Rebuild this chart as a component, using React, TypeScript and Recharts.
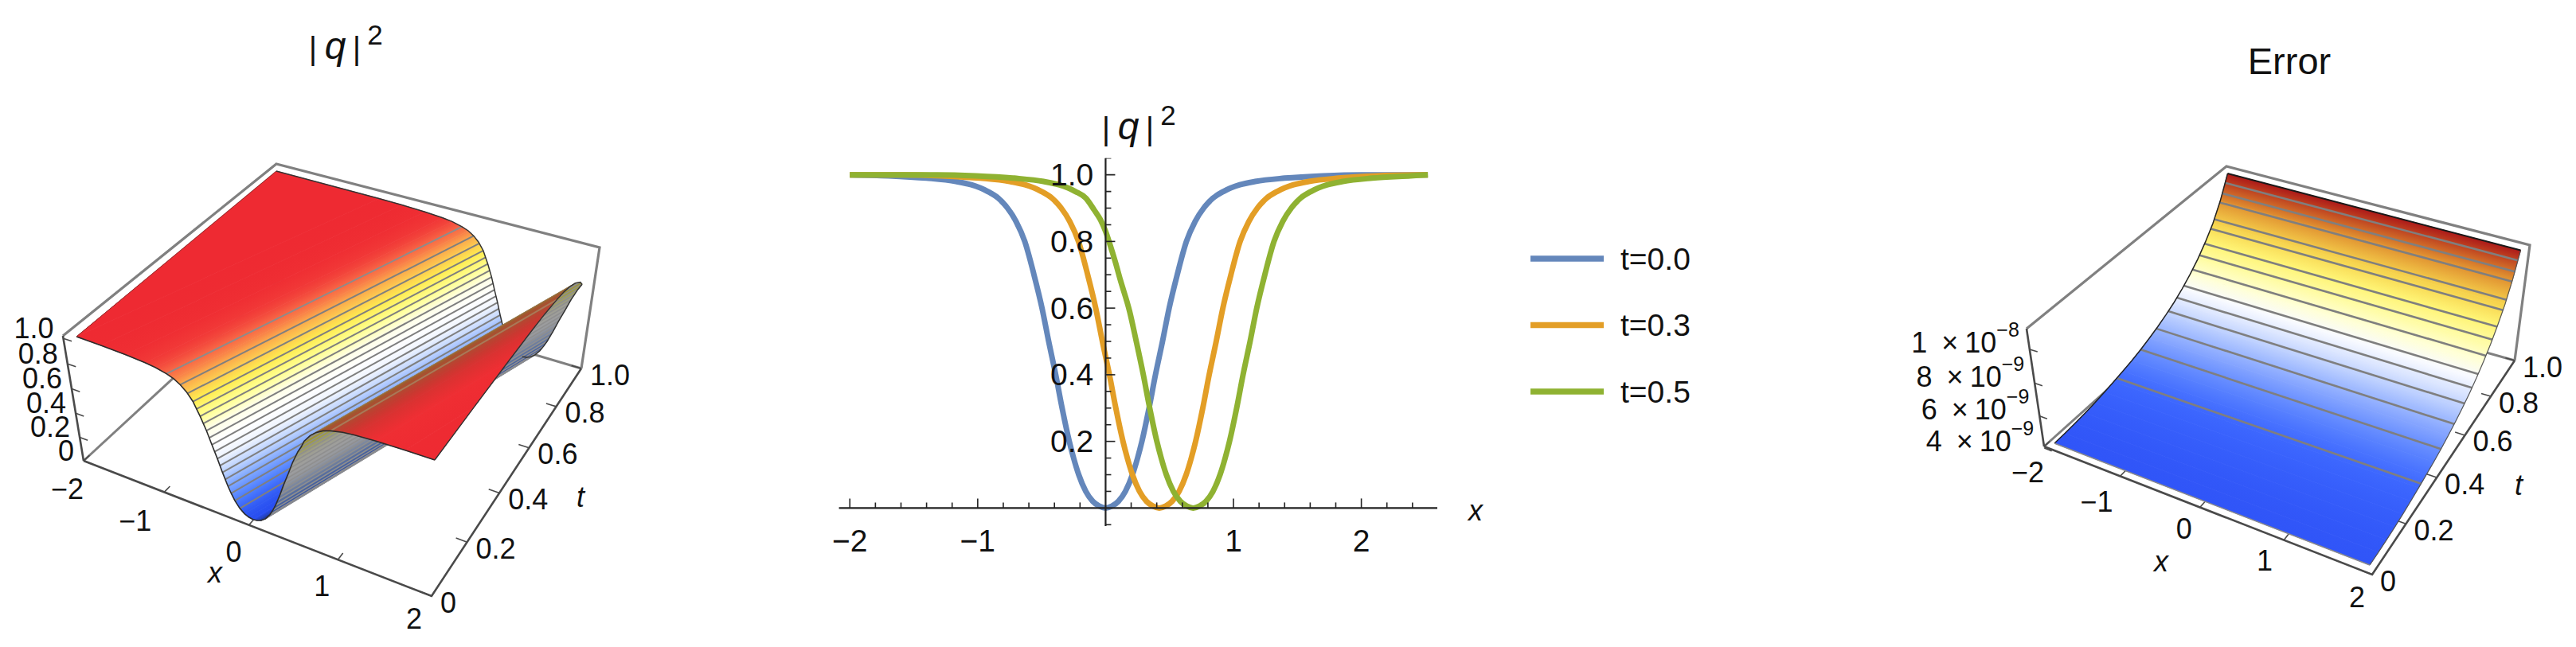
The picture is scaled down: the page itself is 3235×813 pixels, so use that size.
import React from "react";
import { ComposedChart, Line, Scatter, XAxis, YAxis, ReferenceLine, Legend } from "recharts";

// ---- middle panel: profiles ----
const profileT00X = [-2.0, -1.7, -1.4, -1.17, -1.05, -0.922, -0.84, -0.767, -0.7, -0.632, -0.56, -0.497, -0.445, -0.39, -0.34, -0.284, -0.25, -0.21, -0.155, -0.1, -0.05, 0, 0.05, 0.1, 0.155, 0.21, 0.25, 0.284, 0.34, 0.39, 0.445, 0.497, 0.56, 0.632, 0.7, 0.767, 0.84, 0.922, 1.05, 1.17, 1.4, 1.7, 2.0, 2.52];
const profileT00Y = [1, 0.997, 0.99, 0.98, 0.97, 0.95, 0.93, 0.9, 0.86, 0.8, 0.7, 0.6, 0.5, 0.4, 0.3, 0.2, 0.15, 0.1, 0.05, 0.02, 0.006, 0, 0.006, 0.02, 0.05, 0.1, 0.15, 0.2, 0.3, 0.4, 0.5, 0.6, 0.7, 0.8, 0.86, 0.9, 0.93, 0.95, 0.97, 0.98, 0.99, 0.997, 1, 1];
const profileT03X = [-2.0, -1.58, -1.28, -0.98, -0.75, -0.63, -0.502, -0.42, -0.347, -0.28, -0.212, -0.14, -0.077, -0.025, 0.03, 0.08, 0.136, 0.17, 0.21, 0.265, 0.32, 0.37, 0.42, 0.47, 0.52, 0.575, 0.63, 0.67, 0.704, 0.76, 0.81, 0.865, 0.917, 0.98, 1.052, 1.12, 1.187, 1.26, 1.342, 1.47, 1.59, 1.82, 2.12, 2.52];
const profileT03Y = [1, 1, 0.997, 0.99, 0.98, 0.97, 0.95, 0.93, 0.9, 0.86, 0.8, 0.7, 0.6, 0.5, 0.4, 0.3, 0.2, 0.15, 0.1, 0.05, 0.02, 0.006, 0, 0.006, 0.02, 0.05, 0.1, 0.15, 0.2, 0.3, 0.4, 0.5, 0.6, 0.7, 0.8, 0.86, 0.9, 0.93, 0.95, 0.97, 0.98, 0.99, 0.997, 1];
const profileT05X = [-2.0, -1.315, -1.015, -0.715, -0.485, -0.365, -0.237, -0.155, -0.09, -0.04, 0, 0.035, 0.075, 0.115, 0.188, 0.24, 0.295, 0.345, 0.401, 0.435, 0.475, 0.53, 0.585, 0.635, 0.685, 0.735, 0.785, 0.84, 0.895, 0.935, 0.969, 1.025, 1.075, 1.13, 1.182, 1.245, 1.317, 1.385, 1.452, 1.525, 1.607, 1.735, 1.855, 2.085, 2.385, 2.52];
const profileT05Y = [1, 1, 0.997, 0.99, 0.98, 0.97, 0.95, 0.93, 0.895, 0.865, 0.83, 0.79, 0.74, 0.685, 0.59, 0.5, 0.4, 0.3, 0.2, 0.15, 0.1, 0.05, 0.02, 0.006, 0, 0.006, 0.02, 0.05, 0.1, 0.15, 0.2, 0.3, 0.4, 0.5, 0.6, 0.7, 0.8, 0.86, 0.9, 0.93, 0.95, 0.97, 0.98, 0.99, 0.997, 1];
const xMinorTicks = [-2, -1.8, -1.6, -1.4, -1.2, -1, -0.8, -0.6, -0.4, -0.2, 0.2, 0.4, 0.6, 0.8, 1, 1.2, 1.4, 1.6, 1.8, 2, 2.2, 2.4];
const xMajorTicks = [-2, -1, 1, 2];
const yMinorTicks = [-0.05, 0.05, 0.1, 0.15, 0.2, 0.25, 0.3, 0.35, 0.4, 0.45, 0.5, 0.55, 0.6, 0.65, 0.7, 0.75, 0.8, 0.85, 0.9, 0.95, 1, 1.05];
const yMajorTicks = [0.2, 0.4, 0.6, 0.8, 1.0];

// ---- left panel: |q|^2 surface, height against distance from the moving dip ----
const dipSpeed = 1.4;
const surfaceU = [-3.4, -2.0, -1.7, -1.4, -1.17, -1.05, -0.922, -0.84, -0.767, -0.7, -0.632, -0.56, -0.497, -0.445, -0.39, -0.34, -0.284, -0.25, -0.21, -0.155, -0.1, -0.05, 0, 0.05, 0.1, 0.155, 0.21, 0.25, 0.284, 0.34, 0.39, 0.445, 0.497, 0.56, 0.6, 0.632, 0.7, 0.767, 0.84, 0.922, 1.05, 1.17, 1.4, 1.7, 2.0];
const surfaceZ = [1, 1, 0.997, 0.99, 0.98, 0.97, 0.95, 0.93, 0.9, 0.86, 0.8, 0.7, 0.6, 0.5, 0.4, 0.3, 0.2, 0.15, 0.1, 0.05, 0.02, 0.006, 0, 0.006, 0.02, 0.05, 0.1, 0.15, 0.2, 0.3, 0.4, 0.5, 0.6, 0.7, 0.75, 0.8, 0.86, 0.9, 0.93, 0.95, 0.97, 0.98, 0.99, 0.997, 1];
const contourFarU = [-0.155, -0.21, -0.25, -0.284, -0.312, -0.34, -0.365, -0.39, -0.418, -0.445, -0.47, -0.497, -0.528, -0.56, -0.595, -0.632, -0.69, -0.767, -0.922];
const contourNearU = [0.155, 0.21, 0.25, 0.284, 0.312, 0.34, 0.365, 0.39, 0.418, 0.445, 0.47, 0.497, 0.528, 0.56, 0.595, 0.632, 0.69];
const contourNearZ = [0.05, 0.1, 0.15, 0.2, 0.25, 0.3, 0.35, 0.4, 0.45, 0.5, 0.55, 0.6, 0.65, 0.7, 0.75, 0.8, 0.85];
const contourFarZ = [0.05, 0.1, 0.15, 0.2, 0.25, 0.3, 0.35, 0.4, 0.45, 0.5, 0.55, 0.6, 0.65, 0.7, 0.75, 0.8, 0.85, 0.9, 0.95];
const leftXTicks = [-2, -1, 0, 1, 2];
const leftTTicks = [0, 0.2, 0.4, 0.6, 0.8, 1.0];
const leftZTicks = [0, 0.2, 0.4, 0.6, 0.8, 1.0];

// ---- right panel: error surface, values in units of 1e-9 ----
const errorT = [0, 0.05, 0.1, 0.15, 0.2, 0.25, 0.3, 0.35, 0.4, 0.45, 0.5, 0.55, 0.6, 0.65, 0.7, 0.75, 0.8, 0.85, 0.9, 0.95, 1];
const errorZ = [4.15, 4.18, 4.23, 4.3, 4.39, 4.51, 4.64, 4.78, 4.93, 5.11, 5.33, 5.57, 5.85, 6.17, 6.55, 7.0, 7.52, 8.15, 8.88, 9.85, 11.1];
const errorContourT = [0.316, 0.45, 0.541, 0.614, 0.667, 0.711, 0.766, 0.812, 0.846, 0.886, 0.91, 0.946, 0.963, 0.982];
const errorContourZ = [4.69, 5.11, 5.54, 5.94, 6.3, 6.65, 7.17, 7.66, 8.08, 8.67, 9.05, 9.78, 10.2, 10.68];
const errorZTicks = [10, 8, 6, 4];
const errorZExp = ["8", "9", "9", "9"];

const FONT = "'Liberation Sans', Arial, sans-serif";
const BOX_GRAY = "#808080";
const AXIS_DARK = "#4a4a4a";
const CONTOUR = "#7f7f7f";

type Pt = [number, number];
const leftSurfaceCorners: Pt[] = [[120, 572], [536, 742], [352, 351], [714, 467], [96, 423], [546, 578], [347, 215], [737, 319]];
const leftBoxCorners: Pt[] = [[105, 579], [542, 749], [352, 351], [730, 463], [79, 422], [547, 575], [347, 206], [753, 311]];
const rightSurfaceCorners: Pt[] = [[230, 557], [626, 710], [450, 359], [800, 462], [208, 415], [635, 545], [447.5, 218], [815.5, 314.5]];
const rightBoxCorners: Pt[] = [[217, 561], [629, 722], [450, 352], [808, 453], [195, 413], [637, 540], [446, 209], [827, 308]];

const leftStops: [number, number[]][] = [
  [0, [40, 78, 240]], [0.1, [77, 126, 255]], [0.2, [128, 168, 255]], [0.3, [192, 213, 255]], [0.4, [240, 245, 255]],
  [0.5, [255, 255, 255]], [0.6, [255, 255, 232]], [0.65, [255, 255, 192]], [0.7, [255, 255, 144]], [0.75, [255, 248, 96]],
  [0.8, [255, 236, 80]], [0.85, [253, 208, 80]], [0.9, [251, 170, 76]], [0.95, [248, 104, 70]], [0.985, [240, 48, 52]], [1, [238, 42, 50]],
];
const rightStops: [number, number[]][] = [
  [0, [48, 85, 248]], [0.077, [62, 105, 255]], [0.138, [106, 144, 255]], [0.2, [154, 181, 255]], [0.258, [200, 216, 255]], [0.31, [232, 238, 255]],
  [0.36, [255, 255, 255]], [0.42, [255, 255, 208]], [0.52, [255, 250, 144]], [0.62, [255, 239, 96]], [0.72, [240, 192, 64]],
  [0.82, [224, 144, 48]], [0.9, [208, 106, 40]], [0.95, [192, 58, 32]], [1, [172, 24, 24]],
];

function colorAt(stops: [number, number[]][], n: number, shade = 1) {
  let i = 0;
  while (i < stops.length - 2 && n > stops[i + 1][0]) i++;
  const [a, ca] = stops[i];
  const [b, cb] = stops[i + 1];
  const f = Math.min(1, Math.max(0, (n - a) / (b - a)));
  const rgb = ca.map((c, k) => Math.round((c + (cb[k] - c) * f) * shade));
  return `rgb(${rgb[0]},${rgb[1]},${rgb[2]})`;
}

// perspective box: corners are indexed s + 2*tau + 4*n
function makeProjector(corners: Pt[]) {
  return (s: number, tau: number, n: number): Pt => {
    let sx = 0, sy = 0, sw = 0;
    for (let i = 0; i < 8; i++) {
      const bs = i & 1, bt = (i >> 1) & 1, bn = (i >> 2) & 1;
      const b = (bs ? s : 1 - s) * (bt ? tau : 1 - tau) * (bn ? n : 1 - n);
      const d = 1 - 0.095 * bs + 0.22 * bt - 0.05 * bn;
      sx += b * d * corners[i][0];
      sy += b * d * corners[i][1];
      sw += b * d;
    }
    return [sx / sw, sy / sw];
  };
}

function makeStrip(id: string, a0: Pt, a1: Pt, b1: Pt, b0: Pt, c0: string, c1: string) {
  const long0 = Math.hypot(a1[0] - a0[0], a1[1] - a0[1]);
  const long1 = Math.hypot(b1[0] - b0[0], b1[1] - b0[1]);
  const e = long0 > long1 ? [a1[0] - a0[0], a1[1] - a0[1]] : [b1[0] - b0[0], b1[1] - b0[1]];
  const len = Math.hypot(e[0], e[1]) || 1;
  const nrm = [-e[1] / len, e[0] / len];
  const m0 = [(a0[0] + a1[0]) / 2, (a0[1] + a1[1]) / 2];
  const m1 = [(b0[0] + b1[0]) / 2, (b0[1] + b1[1]) / 2];
  const dist = (m1[0] - m0[0]) * nrm[0] + (m1[1] - m0[1]) * nrm[1];
  const px = a0[0], py = a0[1];
  return {
    id, px, py, c0, c1,
    offsets: [a0, a1, b1, b0].map((p) => [p[0] - px, p[1] - py]),
    grad: [m0[0] - px, m0[1] - py, m0[0] + nrm[0] * dist - px, m0[1] + nrm[1] * dist - py],
  };
}

function StripShape(props: any) {
  const { cx, cy, payload } = props;
  const p = payload;
  const pts = p.offsets.map((o: number[]) => `${cx + o[0]},${cy + o[1]}`).join(" ");
  return (
    <g>
      <defs>
        <linearGradient id={p.id} gradientUnits="userSpaceOnUse" x1={cx + p.grad[0]} y1={cy + p.grad[1]} x2={cx + p.grad[2]} y2={cy + p.grad[3]}>
          <stop offset="0" stopColor={p.c0} />
          <stop offset="1" stopColor={p.c1} />
        </linearGradient>
      </defs>
      <polygon points={pts} fill={`url(#${p.id})`} stroke={`url(#${p.id})`} strokeWidth={0.8} />
    </g>
  );
}

function poly(key: string, pts: Pt[], stroke: string, width: number, layer: number) {
  const data = pts.map((p) => ({ px: p[0], py: p[1] }));
  return <Line key={key} data={data} dataKey="py" type="linear" stroke={stroke} strokeWidth={width} dot={false} activeDot={false} isAnimationActive={false} legendType="none" zIndex={layer} />;
}

function strips(key: string, data: any[], layer: number) {
  return <Scatter key={key} data={data} dataKey="py" shape={StripShape} isAnimationActive={false} legendType="none" zIndex={layer} />;
}

function TickText({ x, y, anchor = "middle", size = 36, italic = false, children }: any) {
  return (
    <text x={x} y={y} textAnchor={anchor} dominantBaseline="central" fontFamily={FONT} fontSize={size} fontStyle={italic ? "italic" : "normal"} fill="#111">
      {children}
    </text>
  );
}

function ModLabel({ barX, top }: { barX: number; top: number }) {
  // |q|^2 written the way the plot titles are: bars, italic q, raised 2
  return (
    <g fontFamily={FONT} fill="#111">
      <text x={barX} y={top + 29} fontSize={40} textAnchor="middle">|</text>
      <text x={barX + 28} y={top + 28} fontSize={48} fontStyle="italic" textAnchor="middle">q</text>
      <text x={barX + 55} y={top + 29} fontSize={40} textAnchor="middle">|</text>
      <text x={barX + 78} y={top + 10} fontSize={35} textAnchor="middle">2</text>
    </g>
  );
}

function BoxFrame(box: (s: number, t: number, n: number) => Pt, layer: number) {
  const A = box(0, 0, 0), B = box(1, 0, 0), G = box(0, 1, 0), C = box(1, 1, 0);
  const E = box(0, 0, 1), D = box(0, 1, 1), F = box(1, 1, 1);
  return [
    poly("bk1", [A, G], BOX_GRAY, 3, layer),
    poly("bk2", [G, C], BOX_GRAY, 3, layer),
    poly("bk3", [E, D, F, C], BOX_GRAY, 3.2, layer),
    poly("ax1", [E, A], AXIS_DARK, 2.6, layer),
    poly("ax2", [A, B, C], AXIS_DARK, 2.6, layer),
  ];
}

function panelAxes(w: number) {
  return [
    <XAxis key="x" type="number" dataKey="px" domain={[0, w]} hide allowDataOverflow />,
    <YAxis key="y" type="number" dataKey="py" domain={[0, 813]} reversed hide allowDataOverflow />,
  ];
}

// ---------- left panel ----------
function LeftPanel() {
  const W = 800;
  const surf = makeProjector(leftSurfaceCorners);
  const box = makeProjector(leftBoxCorners);
  const sOf = (x: number) => (x + 2) / 4;
  const tRange = (u: number): [number, number] => [Math.max(0, (-2 - u) / dipSpeed), Math.min(1, (2 - u) / dipSpeed)];
  const at = (u: number, t: number, z: number) => surf(sOf(u + dipSpeed * t), t, z);
  const shade = (u: number) => (u <= 0 ? 1 : u < 0.1 ? 1 - (0.38 * u) / 0.1 : u < 0.8 ? 0.62 : u < 1.3 ? 0.62 + (0.38 * (u - 0.8)) / 0.5 : 1);

  const stripData = surfaceU.slice(0, -1).map((u0, i) => {
    const u1 = surfaceU[i + 1], z0 = surfaceZ[i], z1 = surfaceZ[i + 1];
    const [a, b] = tRange(u0), [c, d] = tRange(u1);
    return {
      u0,
      strip: makeStrip(`ls${i}`, at(u0, a, z0), at(u0, b, z0), at(u1, d, z1), at(u1, c, z1), colorAt(leftStops, z0, shade(u0)), colorAt(leftStops, z1, shade(u1))),
    };
  });
  const far = stripData.filter((s) => s.u0 < 0).map((s) => s.strip);
  const near = stripData.filter((s) => s.u0 >= 0 && s.u0 < 0.767).map((s) => s.strip);
  const top = stripData.filter((s) => s.u0 >= 0.767).map((s) => s.strip);

  const contour = (u: number, z: number): Pt[] => {
    const [a, b] = tRange(u);
    return [at(u, a, z), at(u, b, z)];
  };
  const idx = surfaceU.map((_, i) => i);
  const frontEdge = idx.filter((i) => surfaceU[i] >= -2).map((i) => at(surfaceU[i], 0, surfaceZ[i]));
  const backEdgeFar = idx.filter((i) => surfaceU[i] <= 0).map((i) => at(surfaceU[i], 1, surfaceZ[i]));
  const backEdgeNear = idx.filter((i) => surfaceU[i] >= 0 && surfaceU[i] <= 0.6).map((i) => at(surfaceU[i], 1, surfaceZ[i]));
  const rightEdge = idx.filter((i) => surfaceU[i] >= 0.6).map((i) => at(surfaceU[i], (2 - surfaceU[i]) / dipSpeed, surfaceZ[i]));
  const leftEdge: Pt[] = [at(-2, 0, 1), at(-3.4, 1, 1)];

  const zn = (z: number) => z / 1.02;
  const ticks: any[] = [];
  leftXTicks.forEach((x) => ticks.push(poly(`xt${x}`, [box(sOf(x), 0, 0), box(sOf(x), 0.025, 0)], AXIS_DARK, 1.6, 1)));
  leftTTicks.forEach((t) => ticks.push(poly(`tt${t}`, [box(1, t, 0), box(0.97, t, 0)], AXIS_DARK, 1.6, 1)));
  leftZTicks.forEach((z) => ticks.push(poly(`zt${z}`, [box(0, 0, zn(z)), box(0.025, 0, zn(z))], AXIS_DARK, 1.6, 1)));

  const xNudge: Pt[] = [[0, 35], [-16, 36], [-9, 34], [-10, 33], [-12, 28]];
  return (
    <ComposedChart width={W} height={813} margin={{ top: 0, right: 0, bottom: 0, left: 0 }}>
      {panelAxes(W)}
      {BoxFrame(box, 1)}
      {ticks}
      {strips("far", far, 2)}
      {contourFarU.map((u, i) => poly(`cf${i}`, contour(u, contourFarZ[i]), i === contourFarU.length - 1 ? "#8c8c8c" : CONTOUR, 2, 3))}
      {poly("backfar", backEdgeFar, "#333", 1.5, 3)}
      {strips("near", near, 4)}
      {contourNearU.map((u, i) => poly(`cn${i}`, contour(u, contourNearZ[i]), "#8f8f8f", 1.6, 5))}
      {strips("top", top, 6)}
      {poly("cnTop", contour(0.922, 0.95), "#a87a58", 2, 7)}
      {poly("front", frontEdge, "#2c2c2c", 1.6, 7)}
      {poly("backnear", backEdgeNear, "#333", 1.5, 7)}
      {poly("right", rightEdge, "#333", 1.4, 7)}
      {poly("leftE", leftEdge, "#8a2a2a", 1, 7)}
      <ModLabel barX={393} top={46} />
      {leftXTicks.map((x, i) => {
        const p = box(sOf(x), 0, 0);
        return <TickText key={x} x={p[0] + xNudge[i][0]} y={p[1] + xNudge[i][1]} anchor="end">{x < 0 ? `\u2212${-x}` : x}</TickText>;
      })}
      {leftTTicks.map((t) => {
        const p = box(1, t, 0);
        return <TickText key={t} x={p[0] + 11} y={p[1] + 8} anchor="start">{t === 0 ? "0" : t.toFixed(1)}</TickText>;
      })}
      {leftZTicks.map((z) => {
        const p = box(0, 0, zn(z));
        return <TickText key={z} x={p[0] - 12} y={p[1] - 13} anchor="end">{z === 0 ? "0" : z.toFixed(1)}</TickText>;
      })}
      <TickText x={270} y={719} italic>x</TickText>
      <TickText x={729} y={624} italic>t</TickText>
    </ComposedChart>
  );
}

// ---------- middle panel ----------
function zipXY(xs: number[], ys: number[]) {
  return xs.map((x, i) => ({ x, y: ys[i] }));
}

function XTickMark(props: any) {
  const { cx, cy, payload } = props;
  const len = xMajorTicks.includes(payload.x) ? 12 : 7;
  return <line x1={cx} x2={cx} y1={cy} y2={cy - len} stroke="#222" strokeWidth={1.6} />;
}
function YTickMark(props: any) {
  const { cx, cy, payload } = props;
  const len = yMajorTicks.includes(payload.y) ? 12 : 7;
  return <line x1={cx} x2={cx + len} y1={cy} y2={cy} stroke="#222" strokeWidth={1.6} />;
}

function LegendRows(props: any) {
  const rows = (props.payload || []).filter((p: any) => p.type !== "none");
  return (
    <svg width={240} height={250} style={{ overflow: "visible", display: "block" }}>
      {rows.map((r: any, i: number) => (
        <g key={r.value}>
          <line x1={0} x2={92} y1={42 + i * 83.5} y2={42 + i * 83.5} stroke={r.color} strokeWidth={7.5} />
          <text x={113} y={42 + i * 83.5} dominantBaseline="central" fontFamily={FONT} fontSize={39} fill="#111">{r.value}</text>
        </g>
      ))}
    </svg>
  );
}

function MiddlePanel() {
  const series = [
    { name: "t=0.0", color: "#6487bb", data: zipXY(profileT00X, profileT00Y) },
    { name: "t=0.3", color: "#e39e26", data: zipXY(profileT03X, profileT03Y) },
    { name: "t=0.5", color: "#8fb232", data: zipXY(profileT05X, profileT05Y) },
  ];
  const xTickData = xMinorTicks.map((x) => ({ x, y: 0 }));
  const yTickData = yMinorTicks.map((y) => ({ x: 0, y }));
  return (
    <ComposedChart width={1240} height={813} margin={{ top: 198.7, right: 434, bottom: 112, left: 0 }}>
      <XAxis
        type="number" dataKey="x" domain={[-2.085, 2.594]} allowDataOverflow
        ticks={xMajorTicks} height={40} axisLine={false} tickLine={false} tickSize={0} tickMargin={4}
        tick={{ fontFamily: FONT, fontSize: 39, fill: "#111" }}
        tickFormatter={(v: number) => (v < 0 ? `\u2212${-v}` : `${v}`)}
      />
      <YAxis
        type="number" dataKey="y" domain={[-0.054, 1.05]} allowDataOverflow
        ticks={yMajorTicks} width={53.6} axisLine={false} tickLine={false}
        tick={(p: any) => (
          <text x={373.3} y={p.y} textAnchor="end" dominantBaseline="central" fontFamily={FONT} fontSize={39} fill="#111">
            {p.payload.value.toFixed(1)}
          </text>
        )}
      />
      {series.map((s) => (
        <Line key={s.name} data={s.data} dataKey="y" name={s.name} type="monotone" stroke={s.color} strokeWidth={7} strokeLinecap="butt" dot={false} activeDot={false} isAnimationActive={false} />
      ))}
      <ReferenceLine x={0} stroke="#222" strokeWidth={2.2} />
      <ReferenceLine y={0} stroke="#222" strokeWidth={2.2} />
      <Scatter data={xTickData} dataKey="y" shape={XTickMark} isAnimationActive={false} legendType="none" />
      <Scatter data={yTickData} dataKey="y" shape={YTickMark} isAnimationActive={false} legendType="none" />
      <Legend layout="vertical" align="right" verticalAlign="top" width={1} height={1} content={<LegendRows />} wrapperStyle={{ left: 922, top: 283, right: "auto" }} />
      <ModLabel barX={389} top={147} />
      <TickText x={853} y={641} size={36} italic>x</TickText>
    </ComposedChart>
  );
}

// ---------- right panel ----------
function RightPanel() {
  const W = 885;
  const surf = makeProjector(rightSurfaceCorners);
  const box = makeProjector(rightBoxCorners);
  const nOf = (z: number) => (z - errorZ[0]) / (errorZ[errorZ.length - 1] - errorZ[0]);
  const boxN = (z: number) => (z - 4.1) / 7.1;
  const sOf = (x: number) => (x + 2) / 4;

  const stripData = errorT.slice(0, -1).map((t0, i) => {
    const t1 = errorT[i + 1], n0 = nOf(errorZ[i]), n1 = nOf(errorZ[i + 1]);
    return makeStrip(`rs${i}`, surf(0, t0, n0), surf(1, t0, n0), surf(1, t1, n1), surf(0, t1, n1), colorAt(rightStops, n0), colorAt(rightStops, n1));
  });
  const leftEdge = errorT.map((t, i) => surf(0, t, nOf(errorZ[i])));
  const rightEdge = errorT.map((t, i) => surf(1, t, nOf(errorZ[i])));
  const last = errorZ.length - 1;

  const ticks: any[] = [];
  leftXTicks.forEach((x) => ticks.push(poly(`xt${x}`, [box(sOf(x), 0, 0), box(sOf(x), 0.025, 0)], AXIS_DARK, 1.6, 1)));
  leftTTicks.forEach((t) => ticks.push(poly(`tt${t}`, [box(1, t, 0), box(0.97, t, 0)], AXIS_DARK, 1.6, 1)));
  errorZTicks.forEach((z) => ticks.push(poly(`zt${z}`, [box(0, 0, boxN(z)), box(0.025, 0, boxN(z))], AXIS_DARK, 1.6, 1)));

  const xNudge: Pt[] = [[0, 32], [-9, 32], [-10, 27], [-14, 26], [-9, 28]];
  return (
    <ComposedChart width={W} height={813} margin={{ top: 0, right: 0, bottom: 0, left: 0 }}>
      {panelAxes(W)}
      {BoxFrame(box, 1)}
      {ticks}
      {strips("err", stripData, 2)}
      {errorContourT.map((t, i) => poly(`ec${i}`, [surf(0, t, nOf(errorContourZ[i])), surf(1, t, nOf(errorContourZ[i]))], CONTOUR, 2.6, 3))}
      {poly("eL", leftEdge, "#222", 1.5, 4)}
      {poly("eR", rightEdge, "#555", 1.2, 4)}
      {poly("eT", [surf(0, 1, nOf(errorZ[last])), surf(1, 1, nOf(errorZ[last]))], "#1a1a1a", 2, 4)}
      {poly("eF", [surf(0, 0, 0), surf(1, 0, 0)], "#8a8a8a", 1.5, 4)}
      <text x={525} y={76} textAnchor="middle" dominantBaseline="central" fontFamily={FONT} fontSize={47} fill="#111">Error</text>
      {leftXTicks.map((x, i) => {
        const p = box(sOf(x), 0, 0);
        return <TickText key={x} x={p[0] + xNudge[i][0]} y={p[1] + xNudge[i][1]} anchor="end">{x < 0 ? `\u2212${-x}` : x}</TickText>;
      })}
      {leftTTicks.map((t) => {
        const p = box(1, t, 0);
        return <TickText key={t} x={p[0] + 10} y={p[1] + 8} anchor="start">{t === 0 ? "0" : t.toFixed(1)}</TickText>;
      })}
      {errorZTicks.map((z, i) => {
        const p = box(0, 0, boxN(z));
        const mant = z === 10 ? "1" : `${z}`;
        return (
          <text key={z} x={p[0] - 13} y={p[1] + 4} textAnchor="end" fontFamily={FONT} fontSize={36} fill="#111">
            {mant}
            <tspan dx={18}>{"\u00d7"}</tspan>
            <tspan dx={8}>10</tspan>
            <tspan dy={-20} fontSize={25}>{`\u2212${errorZExp[i]}`}</tspan>
          </text>
        );
      })}
      <TickText x={364} y={705} italic>x</TickText>
      <TickText x={813} y={609} italic>t</TickText>
    </ComposedChart>
  );
}

export default function App() {
  const place = (left: number): React.CSSProperties => ({ position: "absolute", left, top: 0 });
  return (
    <div style={{ position: "absolute", left: 0, top: 0, width: 3235, height: 813, overflow: "hidden", background: "#fff" }}>
      <div style={place(0)}><LeftPanel /></div>
      <div style={place(1000)}><MiddlePanel /></div>
      <div style={place(2350)}><RightPanel /></div>
    </div>
  );
}
